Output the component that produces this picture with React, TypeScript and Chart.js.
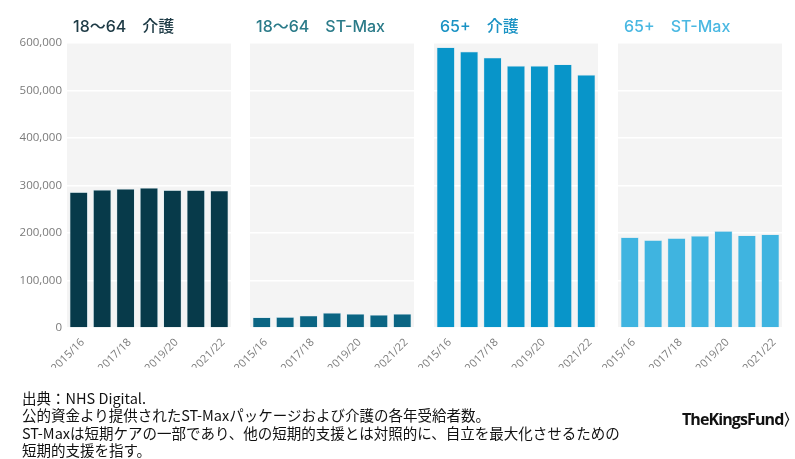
import React, { useEffect, useRef } from "react";
import { Chart, registerables } from "chart.js";

Chart.register(...registerables);

const categories = ["2015/16", "2016/17", "2017/18", "2018/19", "2019/20", "2020/21", "2021/22"];
const yTicks = [0, 100000, 200000, 300000, 400000, 500000, 600000];

const titles = ["18〜64　介護", "18〜64　ST-Max", "65+　介護", "65+　ST-Max"];
const careAge18to64 = [286000, 291000, 293000, 295000, 290000, 290000, 289000];
const stMaxAge18to64 = [22500, 23000, 26000, 32000, 29500, 27500, 29500];
const careAge65plus = [591000, 582000, 569000, 552000, 552000, 555000, 533000];
const stMaxAge65plus = [191000, 185000, 189000, 194000, 204000, 195000, 197000];

const seriesList = [careAge18to64, stMaxAge18to64, careAge65plus, stMaxAge65plus];
const barColors = ["#073a4a", "#0b6583", "#0895c9", "#3fb4e0"];
const titleColors = ["#1d3a45", "#2b7b89", "#1b93c4", "#4ab8e2"];

const W = 795;
const H = 459;
const panelLefts = [67, 250, 434, 618];
const panelWidth = 164;
const plotTop = 43;
const plotBottom = 328;

const bgPlugin = {
  id: "panelBg",
  beforeDraw(chart: any) {
    const { ctx, chartArea } = chart;
    ctx.save();
    ctx.fillStyle = "#f4f4f4";
    ctx.fillRect(chartArea.left, chartArea.top - 1, chartArea.right - chartArea.left, chartArea.bottom - chartArea.top + 1);
    ctx.restore();
  },
};

function Panel({ index }: { index: number }) {
  const ref = useRef<HTMLCanvasElement | null>(null);
  useEffect(() => {
    if (!ref.current) return;
    const left = panelLefts[index];
    const first = index === 0;
    const chart = new Chart(ref.current, {
      type: "bar",
      data: {
        labels: categories,
        datasets: [
          {
            data: seriesList[index],
            backgroundColor: barColors[index],
            borderColor: "rgba(180,220,235,0.6)",
            borderWidth: 0.6,
            barPercentage: 0.77,
            categoryPercentage: 1,
          },
        ],
      },
      options: {
        animation: false,
        responsive: false,
        maintainAspectRatio: false,
        events: [],
        layout: {
          padding: {
            left: first ? 0 : left,
            right: W - left - panelWidth,
            top: plotTop,
            bottom: H - plotBottom - 40,
          },
        },
        plugins: {
          legend: { display: false },
          tooltip: { enabled: false },
          title: { display: false },
        },
        scales: {
          x: {
            grid: { display: false },
            border: { display: false },
            afterFit: (s: any) => {
              s.height = 40;
            },
            ticks: {
              autoSkip: false,
              minRotation: 45,
              maxRotation: 45,
              padding: 0,
              labelOffset: 4,
              color: "#7c7c7c",
              font: { family: "'Open Sans', sans-serif", size: 11 },
              callback: (_v: any, i: number) => (i % 2 === 0 ? categories[i] : ""),
            },
          },
          y: {
            min: 0,
            max: 600000,
            afterBuildTicks: (s: any) => {
              s.ticks = yTicks.map((v) => ({ value: v }));
            },
            afterFit: (s: any) => {
              s.width = first ? left : 0;
            },
            border: { display: false },
            grid: { color: "#ffffff", lineWidth: 1.5, drawTicks: false },
            ticks: {
              display: first,
              padding: 5,
              color: "#7a7a7a",
              font: { family: "'Open Sans', sans-serif", size: 11.5 },
              callback: (v: any) => Number(v).toLocaleString("en-US"),
            },
          },
        },
      },
      plugins: [bgPlugin],
    });
    return () => chart.destroy();
  }, [index]);
  return (
    <canvas
      ref={ref}
      width={W}
      height={H}
      style={{ position: "absolute", left: 0, top: 0, width: W, height: H }}
    />
  );
}

export default function App() {
  return (
    <div
      style={{
        position: "fixed",
        left: 0,
        top: 0,
        width: W,
        height: H,
        background: "#ffffff",
        overflow: "hidden",
        fontFamily: "'Noto Sans CJK JP', 'Noto Sans', sans-serif",
      }}
    >
      {[0, 1, 2, 3].map((i) => (
        <Panel key={i} index={i} />
      ))}
      {titles.map((t, i) => (
        <div
          key={t}
          style={{
            position: "absolute",
            left: panelLefts[i] + 6,
            top: 13,
            fontSize: 16,
            fontWeight: 500,
            color: titleColors[i],
            whiteSpace: "pre",
            fontFamily: "Inter, 'Noto Sans CJK JP', sans-serif",
          }}
        >
          {t}
        </div>
      ))}
      <div
        style={{
          position: "absolute",
          left: 22,
          top: 389,
          fontSize: 14.5,
          lineHeight: "17.3px",
          color: "#111",
          whiteSpace: "nowrap",
          fontFamily: "'Liberation Sans Narrow', 'Noto Sans CJK JP', sans-serif",
        }}
      >
        <div>出典：NHS Digital.</div>
        <div>公的資金より提供されたST-Maxパッケージおよび介護の各年受給者数。</div>
        <div>ST-Maxは短期ケアの一部であり、他の短期的支援とは対照的に、自立を最大化させるための</div>
        <div>短期的支援を指す。</div>
      </div>
      <div
        style={{
          position: "absolute",
          left: 682,
          top: 408,
          fontSize: 16,
          fontWeight: 700,
          letterSpacing: "-0.9px",
          color: "#111",
          fontFamily: "'Liberation Sans Narrow', 'Open Sans', sans-serif",
        }}
      >
        TheKingsFund〉
      </div>
    </div>
  );
}
